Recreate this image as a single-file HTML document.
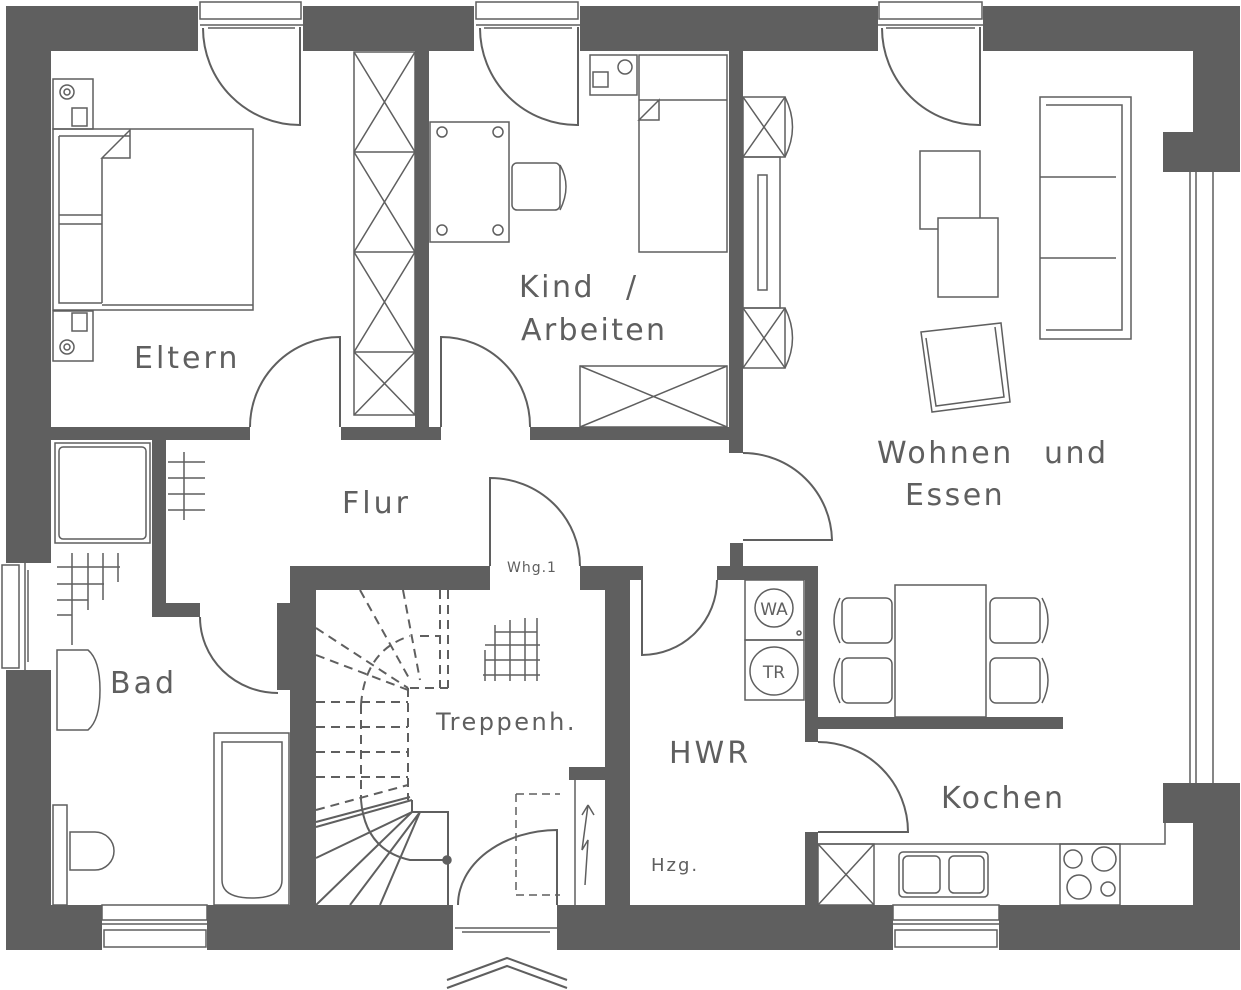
<!DOCTYPE html>
<html><head><meta charset="utf-8"><style>
html,body{margin:0;padding:0;background:#fff;}
svg{display:block;}
text{font-family:"DejaVu Sans","Liberation Sans",sans-serif;fill:#5f5f5f;}
</style></head><body>
<svg width="1241" height="990" viewBox="0 0 1241 990" xmlns="http://www.w3.org/2000/svg">
<g fill="#5f5f5f" stroke="none">
<rect x="6" y="6" width="192" height="45"/>
<rect x="303" y="6" width="171" height="45"/>
<rect x="580" y="6" width="298" height="45"/>
<rect x="983" y="6" width="257" height="45"/>
<rect x="1193" y="6" width="47" height="126"/>
<rect x="1163" y="132" width="77" height="40"/>
<rect x="1163" y="783" width="77" height="40"/>
<rect x="1193" y="783" width="47" height="167"/>
<rect x="6" y="6" width="45" height="557"/>
<rect x="6" y="670" width="45" height="280"/>
<rect x="6" y="905" width="96" height="45"/>
<rect x="207" y="905" width="246" height="45"/>
<rect x="557" y="905" width="336" height="45"/>
<rect x="999" y="905" width="241" height="45"/>
<rect x="415" y="51" width="14" height="389"/>
<rect x="51" y="427" width="199" height="13"/>
<rect x="341" y="427" width="100" height="13"/>
<rect x="530" y="427" width="213" height="13"/>
<rect x="729" y="51" width="14" height="402"/>
<rect x="152" y="440" width="14" height="177"/>
<rect x="152" y="603" width="48" height="14"/>
<rect x="277" y="603" width="14" height="87"/>
<rect x="290" y="566" width="26" height="339"/>
<rect x="290" y="566" width="200" height="24"/>
<rect x="580" y="566" width="50" height="24"/>
<rect x="605" y="566" width="25" height="339"/>
<rect x="569" y="767" width="36" height="13"/>
<rect x="730" y="543" width="13" height="37"/>
<rect x="630" y="566" width="12" height="14"/>
<rect x="717" y="566" width="101" height="14"/>
<rect x="805" y="566" width="13" height="176"/>
<rect x="805" y="832" width="13" height="73"/>
<rect x="818" y="717" width="245" height="12"/>
</g>
<g fill="none" stroke="#5f5f5f" stroke-width="1.5">
<rect x="200" y="2" width="101" height="17" fill="#fff"/><line x1="200" y1="25" x2="303" y2="25"/><line x1="208" y1="28" x2="295" y2="28"/>
<rect x="476" y="2" width="102" height="17" fill="#fff"/><line x1="476" y1="25" x2="580" y2="25"/><line x1="484" y1="28" x2="572" y2="28"/>
<rect x="879" y="2" width="103" height="17" fill="#fff"/><line x1="878" y1="25" x2="983" y2="25"/><line x1="886" y1="28" x2="975" y2="28"/>
<rect x="2" y="565" width="17" height="103" fill="#fff"/><line x1="25" y1="563" x2="25" y2="670"/><line x1="28" y1="570" x2="28" y2="662"/>
<rect x="104" y="930" width="102" height="17" fill="#fff"/><line x1="102" y1="924" x2="207" y2="924"/><rect x="102" y="905" width="105" height="15" fill="#fff"/>
<rect x="895" y="930" width="102" height="17" fill="#fff"/><line x1="893" y1="924" x2="999" y2="924"/><rect x="893" y="905" width="106" height="15" fill="#fff"/>
<line x1="455" y1="928" x2="557" y2="928"/><line x1="462" y1="932" x2="550" y2="932"/>
<line x1="1190" y1="172" x2="1190" y2="783"/><line x1="1196" y1="172" x2="1196" y2="783"/><line x1="1213" y1="172" x2="1213" y2="783"/>
<path d="M300 27 V125 A97 97 0 0 1 203 28" stroke-width="2"/>
<path d="M578 27 V125 A97 97 0 0 1 480 28" stroke-width="2"/>
<path d="M980 27 V125 A97 97 0 0 1 882 28" stroke-width="2"/>
<path d="M340 427 V337 A90 90 0 0 0 250 427" stroke-width="2"/>
<path d="M441 427 V337 A89 89 0 0 1 530 427" stroke-width="2"/>
<path d="M743 453 A89 89 0 0 1 832 540 H743" stroke-width="2"/>
<path d="M490 566 V478 A90 88 0 0 1 580 566" stroke-width="2"/>
<path d="M200 617 A78 76 0 0 0 278 693" stroke-width="2"/>
<path d="M642 566 V655 A75 75 0 0 0 717 580" stroke-width="2"/>
<path d="M818 742 A90 90 0 0 1 908 832 H818" stroke-width="2"/>
<path d="M557 905 V830 A100 75 0 0 0 458 905" stroke-width="2"/>
<path d="M516 794 H560 M516 794 V870 M516 890 V870 M516 895 H560" stroke-dasharray="8 5"/>
<line x1="575" y1="780" x2="575" y2="905"/>
<path d="M585 885 L588 840 L582 850 L588 805 L582 815 M588 805 L594 815" />
<rect x="53" y="79" width="40" height="50"/><circle cx="67" cy="92" r="7"/><circle cx="67" cy="92" r="3"/><rect x="72" y="108" width="15" height="18"/>
<rect x="53" y="311" width="40" height="50"/><circle cx="67" cy="347" r="7"/><circle cx="67" cy="347" r="3"/><rect x="72" y="313" width="15" height="18"/>
<rect x="53" y="129" width="200" height="181"/>
<path d="M59 136 H130 M59 136 V303 H102 M102 158 V303 M59 215 H102 M59 224 H102 M102 158 L130 130 V158 Z M102 305 H253"/>
<rect x="354" y="52" width="61" height="363"/>
<path d="M354 152 H415 M354 252 H415 M354 352 H415 M354 52 L415 152 M415 52 L354 152 M354 152 L415 252 M415 152 L354 252 M354 252 L415 352 M415 252 L354 352 M354 352 L415 415 M415 352 L354 415"/>
<rect x="430" y="122" width="79" height="120"/>
<circle cx="442" cy="132" r="5"/><circle cx="498" cy="132" r="5"/><circle cx="442" cy="230" r="5"/><circle cx="498" cy="230" r="5"/>
<rect x="512" y="163" width="48" height="47" rx="5"/><path d="M560 165 Q572 186 560 210"/>
<rect x="590" y="55" width="47" height="40"/><circle cx="625" cy="67" r="7"/><rect x="593" y="72" width="15" height="15"/>
<rect x="639" y="55" width="88" height="197"/><path d="M639 100 H727 M639 120 L659 100 V120 Z"/>
<rect x="580" y="366" width="147" height="61"/><path d="M580 366 L727 427 M727 366 L580 427"/>
<rect x="743" y="97" width="42" height="60"/><path d="M743 97 L785 157 M785 97 L743 157 M785 97 Q800 127 785 157"/>
<rect x="743" y="157" width="37" height="151"/><rect x="758" y="175" width="9" height="115"/>
<rect x="743" y="308" width="42" height="60"/><path d="M743 308 L785 368 M785 308 L743 368 M785 308 Q800 338 785 368"/>
<rect x="1040" y="97" width="91" height="242"/><path d="M1046 105 H1122 V330 H1046 M1040 177 H1116 M1040 258 H1116"/>
<rect x="920" y="151" width="60" height="78"/><rect x="938" y="218" width="60" height="79" fill="#fff"/>
<path d="M921 332 L1001 323 L1010 402 L932 412 Z M926 338 L936 406 L1004 397 L995 327"/>
<rect x="895" y="585" width="91" height="132"/>
<rect x="842" y="598" width="50" height="45" rx="6"/><rect x="842" y="658" width="50" height="45" rx="6"/>
<rect x="990" y="598" width="50" height="45" rx="6"/><rect x="990" y="658" width="50" height="45" rx="6"/>
<path d="M840 598 Q828 620 840 643 M840 658 Q828 680 840 703 M1042 598 Q1054 620 1042 643 M1042 658 Q1054 680 1042 703"/>
<rect x="745" y="580" width="59" height="60"/><rect x="745" y="640" width="59" height="60"/>
<circle cx="774" cy="608" r="19"/><circle cx="774" cy="671" r="24"/><circle cx="799" cy="633" r="2"/>
<path d="M818 844 H1165 V823"/>
<rect x="818" y="844" width="56" height="61"/><path d="M818 844 L874 905 M874 844 L818 905"/>
<rect x="899" y="852" width="89" height="45" rx="4"/><rect x="903" y="856" width="37" height="37" rx="5"/><rect x="949" y="856" width="35" height="37" rx="5"/>
<rect x="1060" y="844" width="60" height="61"/><circle cx="1073" cy="859" r="9"/><circle cx="1104" cy="859" r="12"/><circle cx="1079" cy="887" r="12"/><circle cx="1108" cy="889" r="7"/>
<rect x="55" y="443" width="95" height="100"/><rect x="59" y="447" width="87" height="92" rx="4"/>
<path d="M57 650 H88 Q100 660 100 690 Q100 720 88 730 H57 Z"/>
<rect x="53" y="805" width="14" height="100"/><path d="M70 832 H95 A18 18 0 1 1 95 870 H70 Z"/>
<rect x="214" y="733" width="75" height="172"/><path d="M222 742 H282 V880 Q282 898 252 898 Q222 898 222 880 Z"/>
<path d="M184 452 V520 M168 462 H205 M168 478 H205 M168 494 H205 M168 510 H205"/>
<path d="M72 553 V645 M88 553 V610 M103 553 V600 M118 553 V582 M57 567 H120 M57 584 H104 M57 600 H88 M57 615 H72"/>
<path d="M485 660 H540 M485 645 H540 M495 632 H537 M483 675 H540 M495 625 V681 M510 620 V681 M525 618 V681 M537 618 V681 M485 650 V681"/>
<g stroke-dasharray="9 6" stroke-width="2">
<path d="M316 702 H408 M316 727 H408 M316 752 H408 M316 777 H408 M316 810 L408 785"/>
<path d="M361 705 V800 M361 705 Q365 650 410 636 M408 688 V800"/>
<path d="M316 628 L408 688 M316 655 L408 690 M360 590 L410 680 M403 590 L420 680 M440 590 V688 M448 590 V688 M410 688 H448 M420 636 H440"/>
</g>
<g stroke-width="2">
<path d="M316 827 L412 800 M316 822 L410 797 M316 858 L412 812 M316 905 L412 812 M350 905 L420 812 M380 905 L420 812 M412 812 V800 M412 812 H448 V905 M361 800 Q365 850 410 860 H448"/>
</g>
<circle cx="447" cy="860" r="4" fill="#5f5f5f"/>
<path d="M447 980 L507 958 L567 980 M447 988 L507 966 L567 988" stroke-width="2"/>
</g>
<text x="134" y="368" font-size="30" letter-spacing="3">Eltern</text>
<text x="519" y="297" font-size="30" letter-spacing="2.5">Kind</text>
<text x="626" y="297" font-size="30">/</text>
<text x="521" y="340" font-size="30" letter-spacing="2.3">Arbeiten</text>
<text x="342" y="513" font-size="30" letter-spacing="3">Flur</text>
<text x="507" y="572" font-size="14" letter-spacing="1">Whg.1</text>
<text x="110" y="693" font-size="30" letter-spacing="3">Bad</text>
<text x="436" y="730" font-size="24" letter-spacing="2.5">Treppenh.</text>
<text x="669" y="763" font-size="30" letter-spacing="3">HWR</text>
<text x="651" y="871" font-size="18" letter-spacing="2">Hzg.</text>
<text x="941" y="808" font-size="30" letter-spacing="2.5">Kochen</text>
<text x="877" y="463" font-size="30" letter-spacing="2.5">Wohnen</text>
<text x="1044" y="463" font-size="30" letter-spacing="2.5">und</text>
<text x="905" y="505" font-size="30" letter-spacing="2.5">Essen</text>
<text x="774" y="615" font-size="17" text-anchor="middle">WA</text>
<text x="774" y="678" font-size="17" text-anchor="middle">TR</text>
</svg>
</body></html>
